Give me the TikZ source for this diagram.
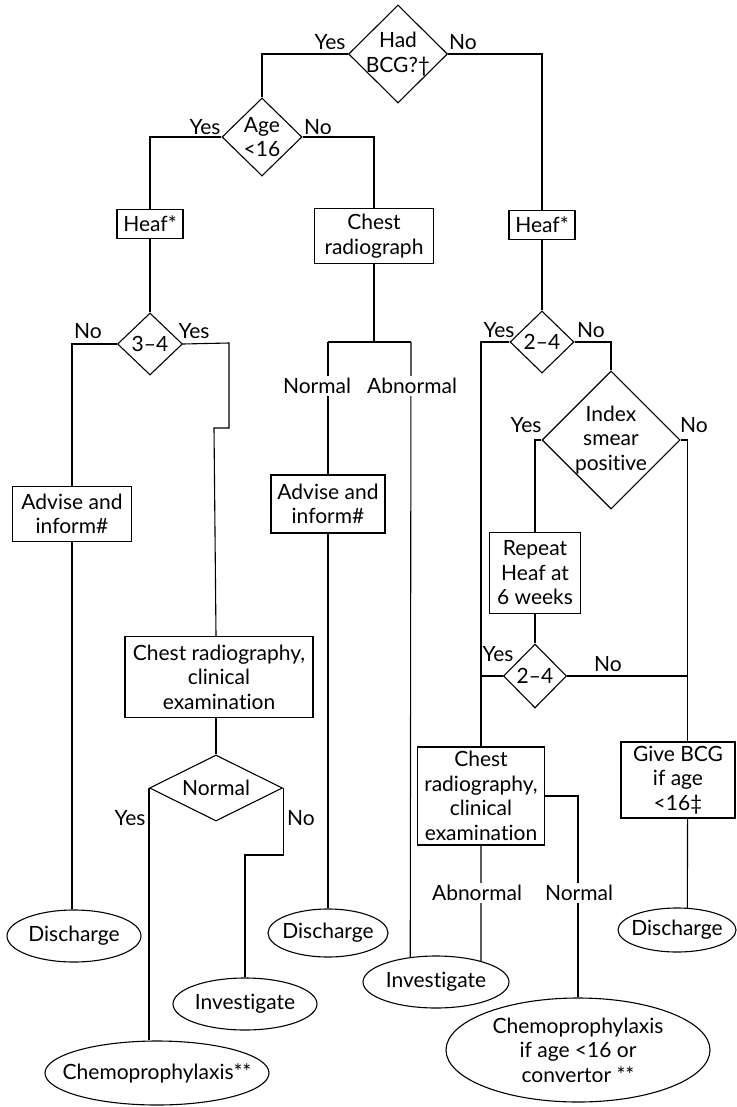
\documentclass[tikz,border=0pt]{standalone}
\usepackage{fontspec}
\setmainfont{Lato}[Ligatures=NoCommon]
\usetikzlibrary{shapes.geometric,calc}
\begin{document}
\begin{tikzpicture}[x=1pt,y=-1pt,line width=1.1pt,
  every node/.style={font=\fontsize{21}{24.5}\selectfont},
  box/.style={draw,rectangle,inner sep=0pt,align=center},
  dia/.style={draw,diamond,inner sep=0pt},
  ell/.style={draw,ellipse,inner sep=0pt},
  mid/.style={align=center,inner sep=0pt},
  lab/.style={inner sep=1pt},
  gap/.style={fill=white,inner sep=2pt}]
\useasboundingbox (0,0) rectangle (736,1107);

% decisions
\node[dia,minimum width=99,minimum height=98,label={[mid]center:Had\\BCG?†}] (bcg) at (398,54) {};
\node[dia,minimum width=80,minimum height=78,label={[mid]center:Age\\<16}] (age) at (262,137) {};
\node[dia,minimum width=65,minimum height=62,label={[mid]center:3–4}] (d34) at (150,344) {};
\node[dia,minimum width=64,minimum height=62,label={[mid]center:2–4}] (d24) at (542,342) {};
\node[dia,minimum width=138,minimum height=138,label={[mid]center:Index\\smear\\positive}] (index) at (611,440) {};
\node[dia,minimum width=63,minimum height=64,label={[mid]center:2–4}] (d24b) at (535,676) {};
\node[dia,minimum width=133,minimum height=66,label={[mid]center:Normal}] (normD) at (216,788) {};

% boxes
\node[box,minimum width=66,minimum height=29] (heafL) at (150,224) {Heaf*};
\node[box,minimum width=119,minimum height=55] (cxr) at (374,236) {Chest\\radiograph};
\node[box,minimum width=66,minimum height=29] (heafR) at (542,225) {Heaf*};
\node[box,minimum width=119,minimum height=55] (advL) at (72,514) {Advise and\\inform\#};
\node[box,minimum width=114,minimum height=58] (advM) at (328,504) {Advise and\\inform\#};
\node[box,minimum width=91,minimum height=81] (repeat) at (535,573) {Repeat\\Heaf at\\6 weeks};
\node[box,minimum width=188,minimum height=81] (crcL) at (219,677) {Chest radiography,\\clinical\\examination};
\node[box,minimum width=127,minimum height=98] (crcR) at (481,796) {Chest\\radiography,\\clinical\\examination};
\node[box,minimum width=114,minimum height=76] (giveBCG) at (678,780) {Give BCG\\if age\\<16‡};

% terminals
\node[ell,minimum width=134,minimum height=52,label={[mid]center:Discharge}] (dischL) at (74,936) {};
\node[ell,minimum width=120,minimum height=48,label={[mid]center:Discharge}] (dischM) at (328,933) {};
\node[ell,minimum width=118,minimum height=44,label={[mid]center:Discharge}] (dischR) at (677,930) {};
\node[ell,minimum width=144,minimum height=52,label={[mid]center:Investigate}] (invL) at (245,1004) {};
\node[ell,minimum width=146,minimum height=52,label={[mid]center:Investigate}] (invR) at (436,982) {};
\node[ell,minimum width=224,minimum height=64,label={[mid]center:Chemoprophylaxis**}] (chemoL) at (157,1073) {};
\node[ell,minimum width=264,minimum height=104,label={[mid]center:Chemoprophylaxis\\if age <16 or\\convertor **}] (chemoR) at (578,1050) {};

% connectors
\draw (bcg.west) -| (age.north);
\draw (bcg.east) -| (heafR.north);
\draw (age.west) -| (heafL.north);
\draw (age.east) -| (cxr.north);
\draw (heafL) -- (d34);
\draw (d34.west) -| (advL.north);
\draw (advL.south) -- (advL.south |- dischL.north);
\draw (d34.east) -- (229,343) -- (229,428) -- (214,428) -- (normD.north |- crcL.north);
\draw (normD.north |- crcL.south) -- (normD.north);
\draw (normD.west) -- (normD.west |- chemoL.north);
\draw (normD.east) -- ++(0,67) -| (invL.north);

\coordinate (splitL) at (328,342);
\coordinate (splitR) at (411,342);
\draw (cxr.south) -- (cxr.south |- splitL);
\draw (splitL) -- (splitR);
\draw (splitL) -- (advM.north);
\draw (splitR) -- (invR.136);
\draw (advM.south) -- (advM.south |- dischM.north);

\draw (heafR) -- (d24);
\draw (d24.west) -| (crcR.north);
\draw (d24.east) -| (index.north);
\draw (index.west) -| (repeat.north);
\draw (index.east) -- ++(7,0) coordinate (nbend) -- (nbend |- giveBCG.north);
\draw (repeat) -- (d24b);
\draw (d24b.west) -- (d24b.west -| crcR.north);
\draw (d24b.east) -- (d24b.east -| nbend);
\draw (crcR.south) -- (invR.25);
\draw (crcR.east) -| (chemoR.north);
\draw (nbend |- giveBCG.south) -- (dischR.65);

% branch labels
\node[lab] (l1) at (330,42) {Yes};
\node[lab] (l2) at (463,42) {No};
\node[lab] (l3) at (205,127) {Yes};
\node[lab] (l4) at (318,127) {No};
\node[lab] (l5) at (88,331) {No};
\node[lab] (l6) at (194,331) {Yes};
\node[lab] (l7) at (499,330) {Yes};
\node[lab] (l8) at (591,330) {No};
\node[lab] (l9) at (526,425) {Yes};
\node[lab] (l10) at (694,425) {No};
\node[lab] (l11) at (498,654) {Yes};
\node[lab] (l12) at (608,664) {No};
\node[lab] (l13) at (130,818) {Yes};
\node[lab] (l14) at (301,818) {No};
\node[gap] (l15) at (317,386) {Normal};
\node[gap] (l16) at (412,386) {Abnormal};
\node[gap] (l17) at (477,893) {Abnormal};
\node[gap] (l18) at (579,893) {Normal};
\end{tikzpicture}
\end{document}
